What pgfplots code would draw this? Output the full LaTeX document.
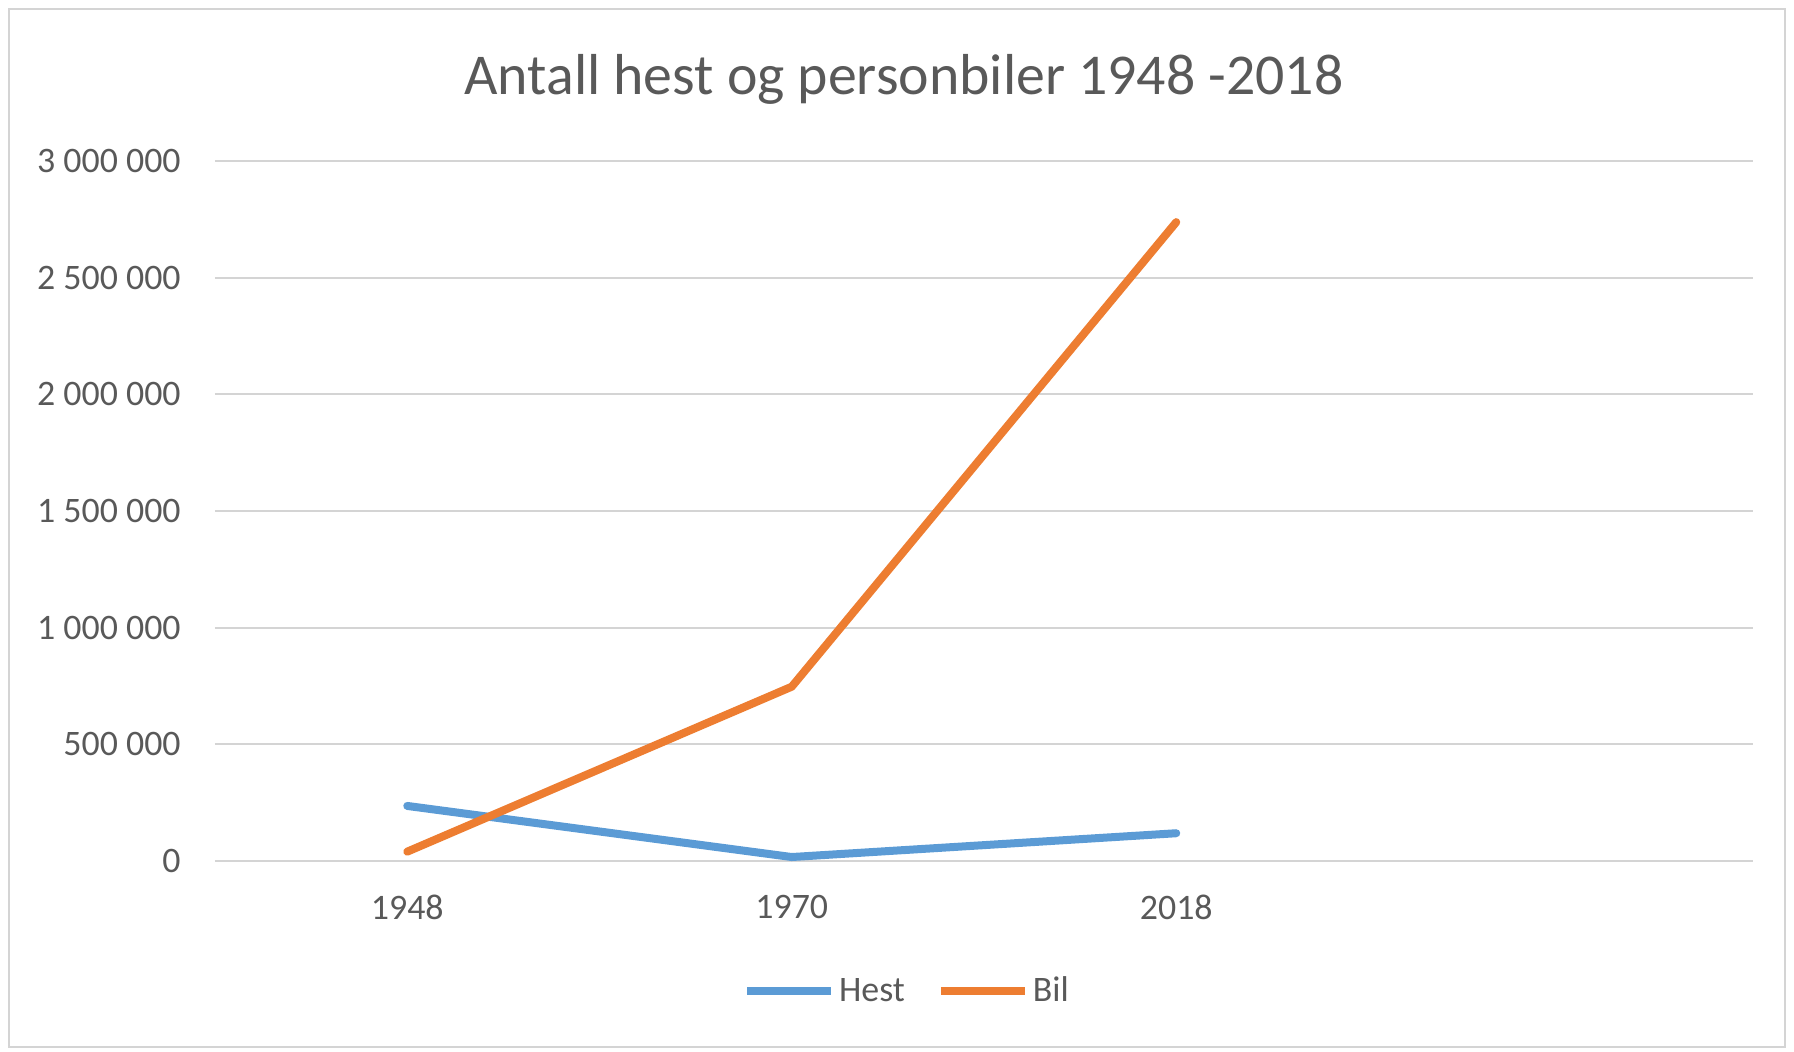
\documentclass[border=0pt]{standalone}
\usepackage{pgfplots}
\pgfplotsset{compat=1.18}
\usepackage{fontspec}
\setmainfont{Carlito}
\definecolor{hestblue}{HTML}{5B9BD5}
\definecolor{bilorange}{HTML}{ED7D31}
\definecolor{txtgray}{HTML}{595959}
\definecolor{gridgray}{HTML}{D4D4D4}
\begin{document}
\begin{tikzpicture}
\begin{axis}[
  at={(0,0)}, anchor=south west,
  scale only axis,
  width=769bp, height=350bp,
  xmin=-0.5, xmax=3.5,
  ymin=0, ymax=3000000,
  xtick={0,1,2},
  xticklabels={1948,1970,2018},
  ytick={0,500000,1000000,1500000,2000000,2500000,3000000},
  yticklabels={0,500 000,1 000 000,1 500 000,2 000 000,2 500 000,3 000 000},
  scaled y ticks=false,
  /pgf/number format/assume math mode=true,
  axis line style={draw=none},
  major tick length=0pt,
  ymajorgrids,
  grid style={gridgray, line width=1bp},
  ticklabel style={font=\fontsize{18}{20}\selectfont, text=txtgray},
  yticklabel style={anchor=east, inner sep=0pt, xshift=-17bp},
  xticklabel style={anchor=north, inner sep=0pt, yshift=-16.8bp},
  clip=false,
  legend columns=-1,
  legend style={
    at={(0.4506,-0.1857)}, anchor=center,
    draw=none, fill=none,
    font=\fontsize{18}{20}\selectfont, text=txtgray,
    /tikz/every even column/.append style={column sep=14bp},
    nodes={inner sep=2bp},
  },
  legend image code/.code={\draw[#1, line cap=butt] (0bp,0bp) -- (42bp,0bp);},
]
\addplot[hestblue, line width=4bp, line cap=round, line join=round]
  coordinates {(0,236000) (1,17000) (2,119000)};
\addlegendentry{Hest}
\addplot[bilorange, line width=4bp, line cap=round, line join=round]
  coordinates {(0,40000) (1,747000) (2,2738000)};
\addlegendentry{Bil}
\end{axis}
\path (-107.5bp,-95.5bp) rectangle (789.5bp,430.5bp);
\draw[gridgray, line width=1bp] (-103bp,-93bp) rectangle (785bp,426bp);
\node[anchor=base, text=txtgray, font=\fontsize{29}{32}\selectfont, inner sep=0pt]
  at (344.5bp,383bp) {Antall hest og personbiler 1948 -2018};
\end{tikzpicture}
\end{document}
